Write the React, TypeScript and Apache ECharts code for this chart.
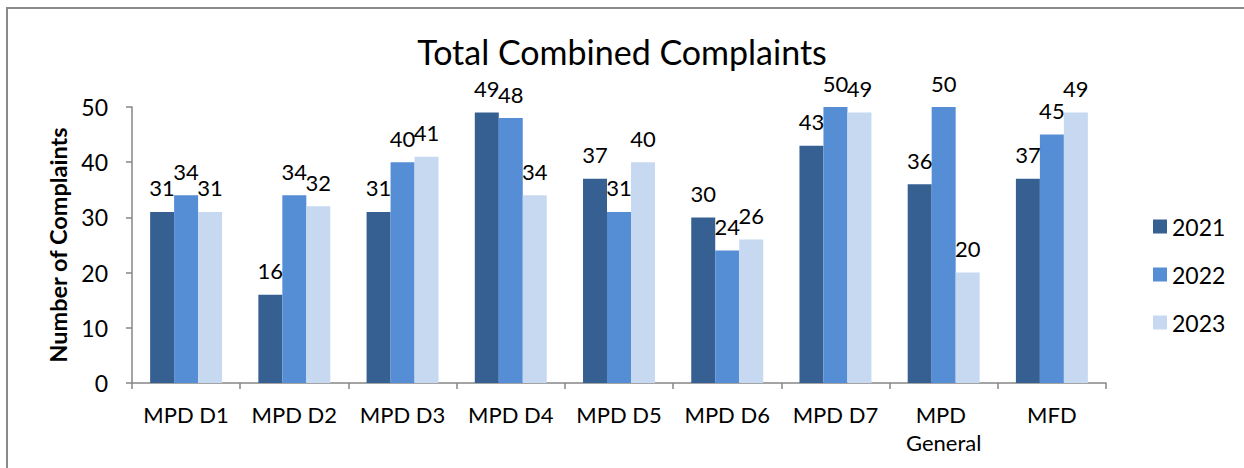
import React, { useEffect, useRef } from "react";
import * as echarts from "echarts";

const categories = ["MPD D1", "MPD D2", "MPD D3", "MPD D4", "MPD D5", "MPD D6", "MPD D7", "MPD General", "MFD"];
const values2021 = [31, 16, 31, 49, 37, 30, 43, 36, 37];
const values2022 = [34, 34, 40, 48, 31, 24, 50, 50, 45];
const values2023 = [31, 32, 41, 34, 40, 26, 49, 20, 49];
const seriesNames = ["2021", "2022", "2023"];
const seriesColors = ["#376092", "#558ED5", "#C6D9F1"];
const yTicks = { min: 0, max: 50, interval: 10 };

const FONT = "Lato";

export default function App() {
  const ref = useRef<HTMLDivElement>(null);
  useEffect(() => {
    if (!ref.current) return;
    const chart = echarts.init(ref.current, undefined, { renderer: "svg" });
    const data = [values2021, values2022, values2023];
    chart.setOption({
      animation: false,
      backgroundColor: "#ffffff",
      textStyle: { fontFamily: FONT },
      title: {
        text: "Total Combined Complaints",
        left: "center",
        top: 29,
        textStyle: { fontFamily: FONT, fontSize: 34, fontWeight: "normal", color: "#000" },
      },
      graphic: [
        {
          type: "rect",
          shape: { x: 7, y: 8, width: 1400, height: 600 },
          style: { fill: "none", stroke: "#8a8a8a", lineWidth: 2 },
          silent: true,
        },
      ],
      legend: {
        orient: "vertical",
        left: 1148,
        top: 209,
        itemWidth: 14,
        itemHeight: 14,
        itemGap: 23,
        icon: "rect",
        textStyle: { fontFamily: FONT, fontSize: 23, color: "#000", lineHeight: 25 },
        data: seriesNames,
      },
      grid: { left: 132, top: 107, width: 974, height: 276 },
      xAxis: {
        type: "category",
        data: categories,
        axisLine: { lineStyle: { color: "#868686", width: 1.5 } },
        axisTick: { show: true, length: 6, lineStyle: { color: "#868686", width: 1.5 } },
        axisLabel: {
          fontFamily: FONT,
          fontSize: 22,
          color: "#000",
          margin: 17,
          lineHeight: 28,
          width: 100,
          overflow: "break",
          interval: 0,
        },
      },
      yAxis: {
        type: "value",
        min: yTicks.min,
        max: yTicks.max,
        interval: yTicks.interval,
        name: "Number of Complaints",
        nameLocation: "middle",
        nameGap: 61,
        nameTextStyle: { fontFamily: FONT, fontSize: 23.5, fontWeight: "bold", color: "#000" },
        axisLine: { show: true, lineStyle: { color: "#868686", width: 1.5 } },
        axisTick: { show: true, length: 6, lineStyle: { color: "#868686", width: 1.5 } },
        splitLine: { show: false },
        axisLabel: { fontFamily: FONT, fontSize: 23, color: "#000", margin: 24 },
      },
      series: seriesNames.map((name, i) => ({
        name,
        type: "bar",
        data: data[i],
        barGap: "0%",
        barCategoryGap: "33.5%",
        itemStyle: { color: seriesColors[i] },
        label: {
          show: true,
          position: "top",
          distance: 13,
          fontFamily: FONT,
          fontSize: 22,
          color: "#000",
        },
      })),
    });
    return () => chart.dispose();
  }, []);
  return <div ref={ref} style={{ position: "fixed", left: 0, top: 0, width: 1244, height: 468 }} />;
}
